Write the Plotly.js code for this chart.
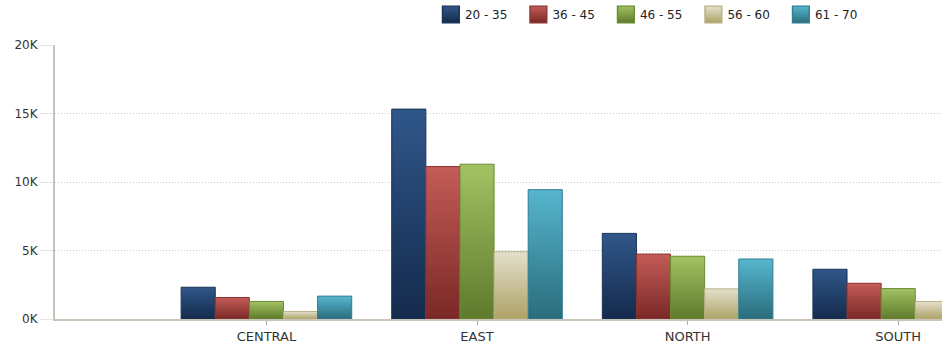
<!DOCTYPE html>
<html>
<head>
<meta charset="utf-8">
<script src="https://cdn.plot.ly/plotly-3.0.1.min.js"></script>
<style>
  html, body { margin: 0; padding: 0; background: #fff; }
  #chart { width: 942px; height: 343px; }
</style>
</head>
<body>
<div id="chart"></div>
<script>
// ---- data ----
const regions = ["CENTRAL", "EAST", "NORTH", "SOUTH"];
const seriesNames = ["20 - 35", "36 - 45", "46 - 55", "56 - 60", "61 - 70"];
const age20_35 = [2320, 15320, 6250, 3630];
const age36_45 = [1570, 11130, 4740, 2610];
const age46_55 = [1280, 11300, 4580, 2220];
const age56_60 = [550, 4910, 2200, 1280];
const age61_70 = [1670, 9440, 4380, 2000];
const yTickVals = [0, 5000, 10000, 15000, 20000];
const yTickText = ["0K", "5K", "10K", "15K", "20K"];

// ---- styles ----
const seriesValues = [age20_35, age36_45, age46_55, age56_60, age61_70];
const fillMid = ["#22436f", "#a3413e", "#86a44a", "#cfc8a2", "#3f98ad"];
const gradTop = ["#30578a", "#c45c58", "#a2c262", "#e4e0cc", "#56b6ce"];
const gradBot = ["#142a4c", "#7a2826", "#5e7a2c", "#ada266", "#2a6c7c"];
const outline = ["#1a3356", "#8a3431", "#6b8a33", "#b8b088", "#2f7f92"];

const traces = seriesNames.map((name, i) => ({
  type: "bar",
  name: name,
  x: regions,
  y: seriesValues[i],
  marker: { color: fillMid[i], line: { color: outline[i], width: 1 } },
  hoverinfo: "x+y+name"
}));

const layout = {
  width: 942,
  height: 343,
  margin: { l: 55, r: 0, t: 44, b: 24, pad: 0 },
  paper_bgcolor: "#ffffff",
  plot_bgcolor: "#ffffff",
  font: { family: "DejaVu Sans, Verdana, sans-serif", size: 12, color: "#333333" },
  barmode: "group",
  bargap: 0.19,
  bargroupgap: 0,
  showlegend: true,
  legend: {
    orientation: "h",
    x: 0.417, xanchor: "left",
    y: 1.165, yanchor: "top",
    font: { size: 12, color: "#222222" },
    entrywidth: 42.5, entrywidthmode: "pixels",
    bgcolor: "rgba(0,0,0,0)",
    traceorder: "normal"
  },
  xaxis: {
    type: "category",
    range: [-1.004, 3.208],
    showline: true, linecolor: "#c9c4b8", linewidth: 2,
    ticks: "outside", ticklen: 4, tickcolor: "#a8a8a8", tickwidth: 1,
    showgrid: false, zeroline: false,
    tickfont: { size: 13, color: "#333333" },
    fixedrange: true
  },
  yaxis: {
    range: [0, 20000],
    tickvals: yTickVals,
    ticktext: yTickText,
    showline: true, linecolor: "#c9c4b8", linewidth: 2,
    showgrid: true, gridcolor: "#c8c8c8", griddash: "1px,2px", gridwidth: 1,
    ticks: "outside", ticklen: 13, tickcolor: "#e4e4e4", tickwidth: 1,
    zeroline: false,
    tickfont: { size: 12, color: "#333333" },
    fixedrange: true
  }
};

Plotly.newPlot("chart", traces, layout, { displayModeBar: false, staticPlot: true }).then(gd => {
  // vertical gradients for bars and legend swatches
  const svgNS = "http://www.w3.org/2000/svg";
  const svg = gd.querySelector("svg.main-svg");
  let defs = svg.querySelector("defs");
  if (!defs) { defs = document.createElementNS(svgNS, "defs"); svg.insertBefore(defs, svg.firstChild); }
  seriesNames.forEach((_, i) => {
    const lg = document.createElementNS(svgNS, "linearGradient");
    lg.setAttribute("id", "bargrad" + i);
    lg.setAttribute("x1", "0"); lg.setAttribute("y1", "0");
    lg.setAttribute("x2", "0"); lg.setAttribute("y2", "1");
    [[0, gradTop[i]], [1, gradBot[i]]].forEach(([o, c]) => {
      const s = document.createElementNS(svgNS, "stop");
      s.setAttribute("offset", o); s.setAttribute("stop-color", c);
      lg.appendChild(s);
    });
    defs.appendChild(lg);
  });
  gd.querySelectorAll(".barlayer .trace").forEach((t, i) => {
    t.querySelectorAll("path").forEach(p => { p.style.fill = "url(#bargrad" + i + ")"; });
  });
  gd.querySelectorAll(".legend .traces").forEach((t, i) => {
    t.querySelectorAll(".legendpoints path").forEach(p => {
      p.style.fill = "url(#bargrad" + i + ")";
      p.setAttribute("transform", "translate(26,0) scale(1.4)");
    });
  });
});
</script>
</body>
</html>
